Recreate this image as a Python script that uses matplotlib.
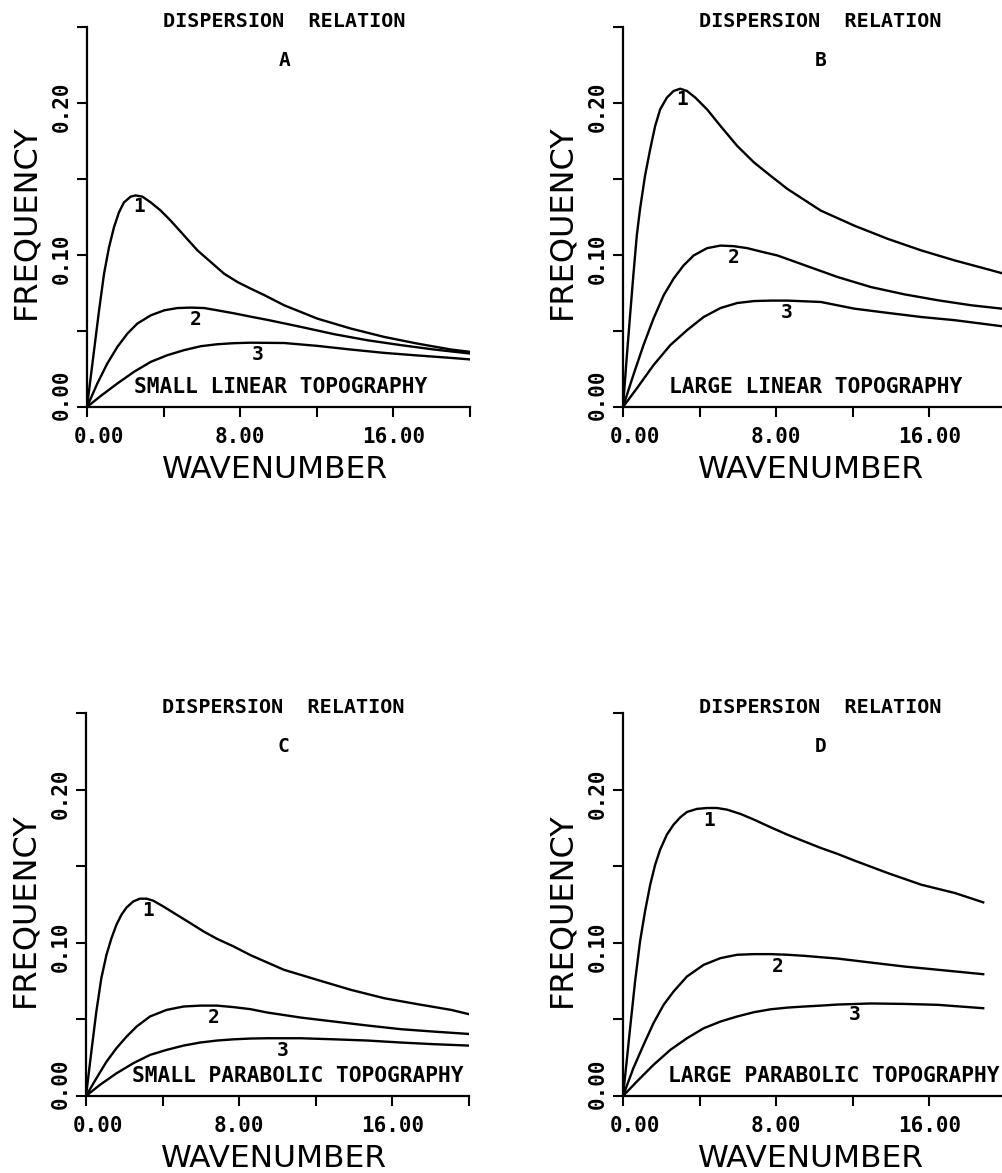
import matplotlib.pyplot as plt
from matplotlib.transforms import offset_copy

# values: wavenumber k, frequency f, three curves per panel
a1_k = [0, 0.37, 0.63, 0.89, 1.15, 1.41, 1.67, 1.93, 2.28, 2.54, 2.89, 3.33, 3.85, 4.37, 5.07, 5.77, 6.47, 7.16,
        7.86, 8.56, 9.26, 10.30, 12.04, 13.78, 15.52, 17.26, 19.01, 20]
a1_f = [0, 0.0374, 0.0636, 0.0877, 0.1051, 0.1183, 0.1281, 0.1346, 0.1384, 0.1392, 0.1384, 0.1346, 0.1292, 0.1226,
        0.1128, 0.1030, 0.0953, 0.0877, 0.0822, 0.0778, 0.0736, 0.0669, 0.0581, 0.0516, 0.0461, 0.0417, 0.0378, 0.0363]
a2_k = [0, 0.54, 1.06, 1.59, 2.11, 2.63, 3.33, 4.03, 4.72, 5.42, 6.12, 6.81, 7.69, 8.56, 9.43, 11.17, 12.91, 14.65,
        16.39, 18.14, 20]
a2_f = [0, 0.0155, 0.0286, 0.0396, 0.0483, 0.0549, 0.0603, 0.0636, 0.0651, 0.0654, 0.0651, 0.0636, 0.0616, 0.0594,
        0.0573, 0.0527, 0.0479, 0.0439, 0.0407, 0.0378, 0.0352]
a3_k = [0, 0.71, 1.59, 2.46, 3.33, 4.20, 5.07, 5.94, 6.81, 7.69, 8.56, 10.30, 12.04, 13.78, 15.52, 17.26, 19.01, 20]
a3_f = [0, 0.0072, 0.0155, 0.0232, 0.0297, 0.0341, 0.0374, 0.0400, 0.0413, 0.0420, 0.0423, 0.0421, 0.0402, 0.0378,
        0.0356, 0.0339, 0.0323, 0.0313]

b1_k = [0, 0.19, 0.37, 0.54, 0.72, 0.89, 1.15, 1.42, 1.68, 1.94, 2.29, 2.64, 2.99, 3.34, 3.78, 4.39, 5.09, 5.96,
        6.84, 7.71, 8.58, 10.33, 12.08, 13.83, 15.58, 17.33, 19.07, 20]
b1_f = [0, 0.0319, 0.0603, 0.0866, 0.1128, 0.1303, 0.1521, 0.1696, 0.1849, 0.1958, 0.2035, 0.2079, 0.2094, 0.2079,
        0.2035, 0.1958, 0.1849, 0.1718, 0.1609, 0.1521, 0.1435, 0.1292, 0.1193, 0.1106, 0.1030, 0.0964, 0.0905, 0.0873]
b2_k = [0, 0.54, 1.07, 1.59, 2.12, 2.64, 3.16, 3.69, 4.39, 5.09, 5.79, 6.49, 7.19, 8.06, 8.93, 9.81, 11.21, 12.95,
        14.70, 16.45, 18.20, 20]
b2_f = [0, 0.0210, 0.0407, 0.0581, 0.0734, 0.0844, 0.0931, 0.0997, 0.1045, 0.1062, 0.1058, 0.1045, 0.1023, 0.0997,
        0.0958, 0.0918, 0.0855, 0.0789, 0.0741, 0.0702, 0.0669, 0.0644]
b3_k = [0, 0.72, 1.59, 2.47, 3.34, 4.21, 5.09, 5.96, 6.84, 7.71, 8.58, 10.33, 12.08, 13.83, 15.58, 17.33, 20]
b3_f = [0, 0.0122, 0.0275, 0.0407, 0.0505, 0.0592, 0.0651, 0.0684, 0.0697, 0.0700, 0.0700, 0.0691, 0.0647, 0.0619,
        0.0592, 0.0571, 0.0528]

c1_k = [0, 0.28, 0.54, 0.80, 1.07, 1.33, 1.59, 1.85, 2.12, 2.47, 2.81, 3.16, 3.51, 4.04, 4.74, 5.44, 6.14, 6.84,
        7.71, 8.58, 10.33, 12.08, 13.83, 15.58, 17.33, 19.07, 20]
c1_f = [0, 0.0290, 0.0551, 0.0769, 0.0922, 0.1030, 0.1118, 0.1183, 0.1231, 0.1270, 0.1288, 0.1288, 0.1275, 0.1237,
        0.1183, 0.1129, 0.1074, 0.1026, 0.0976, 0.0920, 0.0824, 0.0758, 0.0693, 0.0638, 0.0599, 0.0562, 0.0534]
c2_k = [0, 0.54, 1.07, 1.59, 2.12, 2.64, 3.34, 4.21, 5.09, 5.96, 6.84, 7.71, 8.58, 9.46, 11.21, 12.95, 14.70, 16.45,
        18.20, 20]
c2_f = [0, 0.0115, 0.0224, 0.0312, 0.0388, 0.0453, 0.0519, 0.0562, 0.0584, 0.0590, 0.0590, 0.0580, 0.0567, 0.0545,
        0.0512, 0.0486, 0.0460, 0.0436, 0.0420, 0.0405]
c3_k = [0, 0.72, 1.59, 2.47, 3.34, 4.21, 5.09, 5.96, 6.84, 7.71, 8.58, 9.46, 11.21, 12.95, 14.70, 16.45, 18.20, 20]
c3_f = [0, 0.0072, 0.0148, 0.0214, 0.0268, 0.0301, 0.0329, 0.0349, 0.0362, 0.0370, 0.0375, 0.0377, 0.0377, 0.0370,
        0.0362, 0.0349, 0.0338, 0.0329]

d1_k = [0, 0.19, 0.37, 0.63, 0.89, 1.15, 1.42, 1.68, 1.94, 2.29, 2.64, 2.99, 3.34, 3.86, 4.39, 4.91, 5.44, 6.14,
        6.84, 7.71, 8.58, 9.46, 10.33, 11.21, 12.08, 13.83, 15.58, 17.33, 18.81]
d1_f = [0, 0.0224, 0.0442, 0.0747, 0.1009, 0.1205, 0.1379, 0.1510, 0.1608, 0.1706, 0.1771, 0.1819, 0.1854, 0.1874,
        0.1880, 0.1880, 0.1869, 0.1841, 0.1804, 0.1754, 0.1706, 0.1662, 0.1619, 0.1580, 0.1537, 0.1455, 0.1379,
        0.1325, 0.1264]
d2_k = [0, 0.54, 1.07, 1.59, 2.12, 2.64, 3.34, 4.21, 5.09, 5.96, 6.84, 7.71, 8.58, 9.46, 10.33, 11.21, 12.95, 14.70,
        16.45, 18.81]
d2_f = [0, 0.0181, 0.0333, 0.0475, 0.0595, 0.0682, 0.0780, 0.0856, 0.0900, 0.0922, 0.0926, 0.0926, 0.0922, 0.0915,
        0.0906, 0.0897, 0.0871, 0.0845, 0.0824, 0.0795]
d3_k = [0, 0.72, 1.59, 2.47, 3.34, 4.21, 5.09, 5.96, 6.84, 7.71, 8.58, 9.46, 10.33, 11.21, 12.95, 14.70, 16.45, 18.81]
d3_f = [0, 0.0094, 0.0203, 0.0301, 0.0377, 0.0442, 0.0486, 0.0519, 0.0547, 0.0566, 0.0577, 0.0584, 0.0590, 0.0597,
        0.0604, 0.0601, 0.0595, 0.0573]

letters = ['A', 'B', 'C', 'D']
topo = ['SMALL LINEAR TOPOGRAPHY', 'LARGE LINEAR TOPOGRAPHY',
        'SMALL PARABOLIC TOPOGRAPHY', 'LARGE PARABOLIC TOPOGRAPHY']
xticks = [0, 4, 8, 12, 16, 20]
xlabeled = [0, 8, 16]
xlabels = ['0.00', '8.00', '16.00']
yticks = [0, 0.05, 0.10, 0.15, 0.20, 0.25]
ylabeled = [0, 0.10, 0.20]
ylabels = ['0.00', '0.10', '0.20']

curves = [
    [(a1_k, a1_f), (a2_k, a2_f), (a3_k, a3_f)],
    [(b1_k, b1_f), (b2_k, b2_f), (b3_k, b3_f)],
    [(c1_k, c1_f), (c2_k, c2_f), (c3_k, c3_f)],
    [(d1_k, d1_f), (d2_k, d2_f), (d3_k, d3_f)],
]

# where the curve numbers sit, and x of the topography note
num_pos = [
    [(2.72, 0.1318), (5.68, 0.0575), (8.91, 0.0345)],
    [(3.08, 0.2024), (5.79, 0.0986), (8.55, 0.0625)],
    [(3.22, 0.1211), (6.68, 0.0514), (10.27, 0.030)],
    [(4.48, 0.180), (8.06, 0.0845), (12.12, 0.0529)],
]
topo_x = [10.1, 10.07, 11.05, 11.03]

W, H = 1002, 1173
boxes = [
    [87 / W, 1 - 407 / H, 383 / W, 380 / H],
    [623 / W, 1 - 407 / H, 383 / W, 380 / H],
    [86 / W, 1 - 1096 / H, 383 / W, 383 / H],
    [623 / W, 1 - 1096 / H, 383 / W, 383 / H],
]

mono = 'DejaVu Sans Mono'

fig = plt.figure(figsize=(W / 100, H / 100), dpi=100)

for i in range(4):
    ax = fig.add_axes(boxes[i])
    for (k, f) in curves[i]:
        ax.plot(k, f, color='black', lw=1.7, solid_joinstyle='round')
    ax.set_xlim(0, 20)
    ax.set_ylim(0, 0.25)
    ax.spines['top'].set_visible(False)
    ax.spines['right'].set_visible(False)
    ax.spines['left'].set_linewidth(1.6)
    ax.spines['bottom'].set_linewidth(1.6)
    ax.set_xticks(xticks)
    ax.set_yticks(yticks)
    ax.set_xticklabels([])
    ax.set_yticklabels([])
    ax.tick_params(direction='out', length=7, width=1.5)

    # tick labels drawn by hand: the plotter nudged the two 0.00 labels apart
    for v, lab in zip(xlabeled, xlabels):
        dx = 12 if v == 0 else 0
        tr = offset_copy(ax.get_xaxis_transform(), fig=fig, x=dx, y=-30, units='dots')
        ax.text(v, 0, lab, transform=tr, family=mono, fontweight='bold', fontsize=15,
                ha='center', va='center', clip_on=False)
    for v, lab in zip(ylabeled, ylabels):
        dy = 12 if v == 0 else -4
        tr = offset_copy(ax.get_yaxis_transform(), fig=fig, x=-25, y=dy, units='dots')
        ax.text(0, v, lab, transform=tr, family=mono, fontweight='bold', fontsize=15,
                rotation=90, ha='center', va='center', clip_on=False)

    ax.text(0.49, -62 / 380, 'WAVENUMBER', transform=ax.transAxes, fontsize=22.5,
            ha='center', va='center', clip_on=False)
    ax.text(-61 / 383, 185 / 380, 'FREQUENCY', transform=ax.transAxes, fontsize=23,
            rotation=90, ha='center', va='center', clip_on=False)

    ax.text(10.3, 0.2533, 'DISPERSION  RELATION', family=mono, fontweight='bold',
            fontsize=14.5, ha='center', va='center', clip_on=False)
    ax.text(10.3, 0.228, letters[i], family=mono, fontweight='bold',
            fontsize=14, ha='center', va='center', clip_on=False)
    ax.text(topo_x[i], 0.0133, topo[i], family=mono, fontweight='bold',
            fontsize=15.3, ha='center', va='center', clip_on=False)
    for n, (x, y) in enumerate(num_pos[i]):
        ax.text(x, y, str(n + 1), family=mono, fontweight='bold',
                fontsize=14, ha='center', va='center')

fig.savefig('out.png', dpi=100)
